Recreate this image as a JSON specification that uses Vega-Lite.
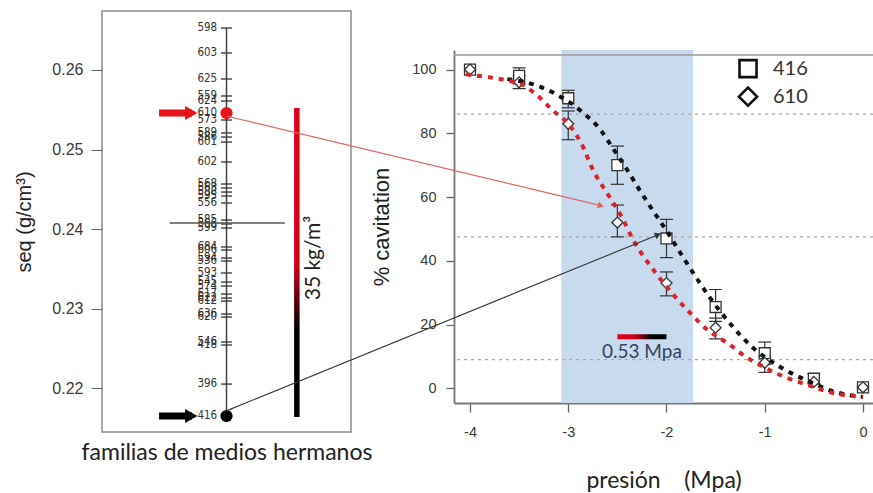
{
  "$schema": "https://vega.github.io/schema/vega-lite/v6.json",
  "padding": {"top": 10, "left": 14, "right": 0, "bottom": 0},
  "bounds": "flush",
  "spacing": 103,
  "resolve": {"scale": {"color": "independent", "shape": "independent"}, "legend": {"color": "independent", "shape": "independent"}},
  "config": {
    "view": {"stroke": null},
    "font": "Liberation Sans",
    "axis": {"labelFont": "Liberation Sans", "titleFont": "Liberation Sans", "labelColor": "#3a3a3a", "titleColor": "#222222", "tickColor": "#666666", "domainColor": "#777777", "grid": false, "titleFontWeight": "normal"}
  },
  "datasets": {
    "fam": [
      {"label": "598", "seq": 0.26528}, {"label": "603", "seq": 0.26214}, {"label": "625", "seq": 0.25887},
      {"label": "559", "seq": 0.25673}, {"label": "624", "seq": 0.2561}, {"label": "610", "seq": 0.25459},
      {"label": "573", "seq": 0.25371}, {"label": "589", "seq": 0.25208}, {"label": "586", "seq": 0.25157},
      {"label": "601", "seq": 0.25094}, {"label": "602", "seq": 0.24843}, {"label": "568", "seq": 0.24566},
      {"label": "563", "seq": 0.24516}, {"label": "588", "seq": 0.24465}, {"label": "595", "seq": 0.24415},
      {"label": "556", "seq": 0.24327}, {"label": "585", "seq": 0.24113}, {"label": "566", "seq": 0.24063},
      {"label": "599", "seq": 0.24013}, {"label": "684", "seq": 0.23774}, {"label": "606", "seq": 0.23736},
      {"label": "594", "seq": 0.23635}, {"label": "536", "seq": 0.23597}, {"label": "593", "seq": 0.23447},
      {"label": "545", "seq": 0.23333}, {"label": "574", "seq": 0.23283}, {"label": "617", "seq": 0.23182},
      {"label": "622", "seq": 0.23132}, {"label": "612", "seq": 0.23094}, {"label": "636", "seq": 0.22931},
      {"label": "620", "seq": 0.22893}, {"label": "546", "seq": 0.22579}, {"label": "418", "seq": 0.22541},
      {"label": "396", "seq": 0.2205}, {"label": "416", "seq": 0.21648}
    ],
    "hl": [
      {"selected": "610", "seq": 0.25459},
      {"selected": "416", "seq": 0.21648}
    ],
    "link": [
      {"selected": "610", "P0": -6.474, "pct0": 85.36, "P1": -2.667, "pct1": 57.3},
      {"selected": "416", "P0": -6.474, "pct0": -7.01, "P1": -2.086, "pct1": 48.17}
    ],
    "obs": [
      {"family": "416", "P": -4, "pct": 100},
      {"family": "416", "P": -3.5, "pct": 98, "lo": 95.5, "hi": 100.5},
      {"family": "416", "P": -3, "pct": 91, "lo": 88, "hi": 93.5},
      {"family": "416", "P": -2.5, "pct": 70, "lo": 64, "hi": 76},
      {"family": "416", "P": -2, "pct": 47, "lo": 41, "hi": 53},
      {"family": "416", "P": -1.5, "pct": 25.5, "lo": 21, "hi": 31},
      {"family": "416", "P": -1, "pct": 11, "lo": 7.5, "hi": 14.5},
      {"family": "416", "P": -0.5, "pct": 3, "lo": 1.5, "hi": 4.5},
      {"family": "416", "P": 0, "pct": 0.3},
      {"family": "610", "P": -4, "pct": 100},
      {"family": "610", "P": -3.5, "pct": 96, "lo": 94, "hi": 98},
      {"family": "610", "P": -3, "pct": 83, "lo": 78, "hi": 87},
      {"family": "610", "P": -2.5, "pct": 52, "lo": 47.5, "hi": 57.5},
      {"family": "610", "P": -2, "pct": 33, "lo": 29, "hi": 36.5},
      {"family": "610", "P": -1.5, "pct": 19, "lo": 15.5, "hi": 22},
      {"family": "610", "P": -1, "pct": 8, "lo": 5, "hi": 10},
      {"family": "610", "P": -0.5, "pct": 2},
      {"family": "610", "P": 0, "pct": 0.3}
    ],
    "fit": [
      {"curve": "416", "P": -3.62, "pct": 97}, {"curve": "416", "P": -3.32, "pct": 95},
      {"curve": "416", "P": -3.15, "pct": 92.7}, {"curve": "416", "P": -2.87, "pct": 87},
      {"curve": "416", "P": -2.67, "pct": 81}, {"curve": "416", "P": -2.55, "pct": 75.5},
      {"curve": "416", "P": -2.41, "pct": 69}, {"curve": "416", "P": -2.27, "pct": 62},
      {"curve": "416", "P": -2.1, "pct": 54}, {"curve": "416", "P": -2.0, "pct": 49.5},
      {"curve": "416", "P": -1.9, "pct": 44.5}, {"curve": "416", "P": -1.66, "pct": 33},
      {"curve": "416", "P": -1.56, "pct": 28.5}, {"curve": "416", "P": -1.33, "pct": 19.5},
      {"curve": "416", "P": -1.13, "pct": 13}, {"curve": "416", "P": -0.86, "pct": 7},
      {"curve": "416", "P": -0.5, "pct": 1.5}, {"curve": "416", "P": -0.3, "pct": -1},
      {"curve": "416", "P": 0, "pct": -2.7},
      {"curve": "610", "P": -4.04, "pct": 98.5}, {"curve": "610", "P": -3.79, "pct": 97.5},
      {"curve": "610", "P": -3.62, "pct": 96.6}, {"curve": "610", "P": -3.45, "pct": 95},
      {"curve": "610", "P": -3.32, "pct": 92}, {"curve": "610", "P": -3.15, "pct": 87},
      {"curve": "610", "P": -3.0, "pct": 83}, {"curve": "610", "P": -2.87, "pct": 77},
      {"curve": "610", "P": -2.74, "pct": 68}, {"curve": "610", "P": -2.6, "pct": 61},
      {"curve": "610", "P": -2.46, "pct": 54}, {"curve": "610", "P": -2.34, "pct": 46.6},
      {"curve": "610", "P": -2.12, "pct": 36.6}, {"curve": "610", "P": -1.92, "pct": 29},
      {"curve": "610", "P": -1.74, "pct": 23}, {"curve": "610", "P": -1.57, "pct": 18},
      {"curve": "610", "P": -1.37, "pct": 14}, {"curve": "610", "P": -1.2, "pct": 10},
      {"curve": "610", "P": -1.03, "pct": 7}, {"curve": "610", "P": -0.83, "pct": 4},
      {"curve": "610", "P": -0.56, "pct": 1}, {"curve": "610", "P": -0.3, "pct": -1.5},
      {"curve": "610", "P": 0, "pct": -2.7}
    ]
  },
  "hconcat": [
    {
      "width": 249,
      "height": 421,
      "view": {"stroke": "#8c8c8c", "strokeWidth": 1.5},
      "layer": [
        {
          "data": {"values": [{"top": 0.26528, "bottom": 0.21648}]},
          "mark": {"type": "bar", "width": 1.5, "color": "#444444"},
          "encoding": {
            "x": {"datum": 0.5, "type": "quantitative", "scale": {"domain": [0, 1]},
                  "axis": {"title": "familias de medios hermanos", "labels": false, "ticks": false, "domain": false, "titleFont": "Lato", "titleFontSize": 23, "titleColor": "#222222", "titlePadding": 9}},
            "y": {"field": "top", "type": "quantitative",
                  "scale": {"domain": [0.21447, 0.26742], "nice": false, "zero": false},
                  "axis": {"title": "seq (g/cm³)", "values": [0.22, 0.23, 0.24, 0.25, 0.26], "format": ".2f", "labelFontSize": 16, "titleFontSize": 20, "tickSize": 11, "labelPadding": 8, "titlePadding": 17, "domain": false}},
            "y2": {"field": "bottom"}
          }
        },
        {
          "data": {"name": "fam"},
          "mark": {"type": "tick", "orient": "horizontal", "size": 11, "thickness": 1.3, "color": "#333333", "opacity": 1},
          "encoding": {
            "x": {"datum": 0.5, "type": "quantitative"},
            "y": {"field": "seq", "type": "quantitative"}
          }
        },
        {
          "data": {"name": "fam"},
          "mark": {"type": "text", "align": "right", "baseline": "middle", "font": "Liberation Sans Narrow, DejaVu Sans Condensed, Liberation Sans", "fontSize": 11.5, "color": "#333333"},
          "encoding": {
            "x": {"datum": 0.455, "type": "quantitative"},
            "y": {"field": "seq", "type": "quantitative"},
            "text": {"field": "label"}
          }
        },
        {
          "data": {"values": [{"mean": 0.24075}]},
          "mark": {"type": "tick", "orient": "horizontal", "size": 115, "thickness": 1.5, "color": "#555555", "opacity": 1},
          "encoding": {
            "x": {"datum": 0.504, "type": "quantitative"},
            "y": {"field": "mean", "type": "quantitative"}
          }
        },
        {
          "data": {"values": [{"top": 0.25522, "bottom": 0.21635}]},
          "mark": {"type": "bar", "width": 5.5,
                   "fill": {"gradient": "linear", "x1": 0, "y1": 0, "x2": 0, "y2": 1,
                            "stops": [{"offset": 0, "color": "#e3001b"}, {"offset": 0.5, "color": "#d5001a"}, {"offset": 0.72, "color": "#000000"}, {"offset": 1, "color": "#000000"}]}},
          "encoding": {
            "x": {"datum": 0.839, "type": "quantitative"},
            "y": {"field": "top", "type": "quantitative"},
            "y2": {"field": "bottom"}
          }
        },
        {
          "data": {"values": [{"text": "35 kg/m³"}]},
          "mark": {"type": "text", "angle": 270, "font": "Lato", "fontSize": 21, "color": "#222222", "align": "center", "baseline": "middle"},
          "encoding": {
            "x": {"datum": 0.92, "type": "quantitative"},
            "y": {"datum": 0.23635, "type": "quantitative"},
            "text": {"field": "text"}
          }
        },
        {
          "data": {"name": "hl"},
          "mark": {"type": "tick", "orient": "horizontal", "size": 33, "thickness": 7, "opacity": 1},
          "encoding": {
            "x": {"datum": 0.2545, "type": "quantitative"},
            "y": {"field": "seq", "type": "quantitative"},
            "color": {"field": "selected", "type": "nominal", "scale": {"domain": ["416", "610"], "range": ["#000000", "#e8141b"]}, "legend": null}
          }
        },
        {
          "data": {"name": "hl"},
          "mark": {"type": "point", "shape": "triangle-right", "filled": true, "size": 200, "opacity": 1},
          "encoding": {
            "x": {"datum": 0.33, "type": "quantitative"},
            "y": {"field": "seq", "type": "quantitative"},
            "color": {"field": "selected", "type": "nominal", "legend": null}
          }
        },
        {
          "data": {"name": "hl"},
          "mark": {"type": "point", "shape": "circle", "filled": true, "size": 150, "opacity": 1},
          "encoding": {
            "x": {"datum": 0.5, "type": "quantitative"},
            "y": {"field": "seq", "type": "quantitative"},
            "color": {"field": "selected", "type": "nominal", "legend": null}
          }
        }
      ]
    },
    {
      "bounds": "flush",
      "spacing": 0,
      "resolve": {"scale": {"color": "independent", "shape": "independent"}, "legend": {"color": "independent", "shape": "independent"}},
      "vconcat": [
        {
          "width": 419,
          "height": 39,
          "data": {"values": [{"blank": ""}]},
          "mark": {"type": "text"},
          "encoding": {"text": {"field": "blank"}}
        },
        {
          "width": 419,
          "height": 353,
          "layer": [
            {
              "data": {"values": [{"from": -3.07, "to": -1.73}]},
              "mark": {"type": "rect", "color": "#c8daee", "opacity": 1},
              "encoding": {
                "x": {"field": "from", "type": "quantitative",
                      "scale": {"domain": [-4.163, 0.102], "nice": false, "zero": false},
                      "axis": {"title": "presión\u00a0\u00a0\u00a0\u00a0(Mpa)", "values": [-4, -3, -2, -1, 0], "labelExpr": "toString(datum.value)", "labelFontSize": 14.5, "tickSize": 9, "labelPadding": 13, "titleFont": "Lato", "titleFontSize": 23, "titlePadding": 31, "domainWidth": 1.8, "tickWidth": 1.3}},
                "x2": {"field": "to"}
              }
            },
            {
              "data": {"values": [{"level": 86}, {"level": 47.5}, {"level": 9}]},
              "mark": {"type": "rule", "color": "#a8a8a8", "strokeWidth": 1.2, "strokeDash": [3, 4]},
              "encoding": {
                "y": {"field": "level", "type": "quantitative",
                      "scale": {"domain": [-3.05, 104.57], "nice": false, "zero": false},
                      "axis": {"title": "% cavitation", "values": [0, 20, 40, 60, 80, 100], "labelFontSize": 14.5, "tickSize": 8, "labelPadding": 10, "titleFontSize": 22, "titlePadding": 18, "domainWidth": 1.8, "tickWidth": 1.3}}
              }
            },
            {
              "data": {"values": [{"edge": 104.57}]},
              "mark": {"type": "rule", "color": "#999999", "strokeWidth": 1.5},
              "encoding": {"y": {"field": "edge", "type": "quantitative"}}
            },
            {
              "data": {"name": "obs"},
              "transform": [{"filter": "isValid(datum.lo)"}],
              "mark": {"type": "rule", "color": "#333333", "strokeWidth": 1.2},
              "encoding": {
                "x": {"field": "P", "type": "quantitative"},
                "y": {"field": "lo", "type": "quantitative"},
                "y2": {"field": "hi"}
              }
            },
            {
              "data": {"name": "obs"},
              "transform": [{"filter": "isValid(datum.lo)"}],
              "mark": {"type": "tick", "orient": "horizontal", "size": 13, "thickness": 1.2, "color": "#333333", "opacity": 1},
              "encoding": {
                "x": {"field": "P", "type": "quantitative"},
                "y": {"field": "lo", "type": "quantitative"}
              }
            },
            {
              "data": {"name": "obs"},
              "transform": [{"filter": "isValid(datum.hi)"}],
              "mark": {"type": "tick", "orient": "horizontal", "size": 13, "thickness": 1.2, "color": "#333333", "opacity": 1},
              "encoding": {
                "x": {"field": "P", "type": "quantitative"},
                "y": {"field": "hi", "type": "quantitative"}
              }
            },
            {
              "data": {"name": "obs"},
              "mark": {"type": "point", "filled": false, "color": "#333333", "fill": "white", "fillOpacity": 1, "strokeWidth": 1.3, "size": 120, "opacity": 1},
              "encoding": {
                "x": {"field": "P", "type": "quantitative"},
                "y": {"field": "pct", "type": "quantitative"},
                "shape": {"field": "family", "type": "nominal",
                          "scale": {"domain": ["416", "610"], "range": ["square", "diamond"]},
                          "legend": null}
              }
            },
            {
              "data": {"name": "fit"},
              "transform": [{"filter": "datum.curve === '416'"}],
              "mark": {"type": "line", "strokeWidth": 4, "strokeDash": [5, 6], "interpolate": "monotone", "color": "#111111"},
              "encoding": {
                "x": {"field": "P", "type": "quantitative"},
                "y": {"field": "pct", "type": "quantitative"}
              }
            },
            {
              "data": {"name": "fit"},
              "transform": [{"filter": "datum.curve === '610'"}],
              "mark": {"type": "line", "strokeWidth": 4, "strokeDash": [5, 6], "interpolate": "monotone", "color": "#d8232a"},
              "encoding": {
                "x": {"field": "P", "type": "quantitative"},
                "y": {"field": "pct", "type": "quantitative"}
              }
            },
            {
              "data": {"values": [{"x0": -2.5, "x1": -2.0, "level": 16.2}]},
              "mark": {"type": "bar", "height": 5,
                       "fill": {"gradient": "linear", "x1": 0, "y1": 0, "x2": 1, "y2": 0,
                                "stops": [{"offset": 0, "color": "#e3001b"}, {"offset": 0.35, "color": "#d0001a"}, {"offset": 0.7, "color": "#000000"}, {"offset": 1, "color": "#000000"}]}},
              "encoding": {
                "x": {"field": "x0", "type": "quantitative"},
                "x2": {"field": "x1"},
                "y": {"field": "level", "type": "quantitative"}
              }
            },
            {
              "data": {"values": [{"text": "0.53 Mpa"}]},
              "mark": {"type": "text", "font": "Lato", "fontSize": 19, "color": "#34445a", "align": "center", "baseline": "middle"},
              "encoding": {
                "x": {"datum": -2.25, "type": "quantitative"},
                "y": {"datum": 11.3, "type": "quantitative"},
                "text": {"field": "text"}
              }
            },
            {
              "data": {"values": [{"family": "416"}]},
              "mark": {"type": "point", "shape": "square", "filled": false, "color": "#111111", "fill": "white", "fillOpacity": 1, "strokeWidth": 2.6, "size": 290, "opacity": 1},
              "encoding": {
                "x": {"datum": -1.17, "type": "quantitative"},
                "y": {"datum": 100.3, "type": "quantitative"}
              }
            },
            {
              "data": {"values": [{"family": "610"}]},
              "mark": {"type": "point", "shape": "diamond", "filled": false, "color": "#111111", "fill": "white", "fillOpacity": 1, "strokeWidth": 2.6, "size": 330, "opacity": 1},
              "encoding": {
                "x": {"datum": -1.17, "type": "quantitative"},
                "y": {"datum": 91.5, "type": "quantitative"}
              }
            },
            {
              "data": {"values": [{"family": "416"}]},
              "mark": {"type": "text", "font": "Lato", "fontSize": 20, "color": "#333333", "align": "left", "baseline": "middle"},
              "encoding": {
                "x": {"datum": -0.916, "type": "quantitative"},
                "y": {"datum": 100.3, "type": "quantitative"},
                "text": {"field": "family"}
              }
            },
            {
              "data": {"values": [{"family": "610"}]},
              "mark": {"type": "text", "font": "Lato", "fontSize": 20, "color": "#333333", "align": "left", "baseline": "middle"},
              "encoding": {
                "x": {"datum": -0.916, "type": "quantitative"},
                "y": {"datum": 91.5, "type": "quantitative"},
                "text": {"field": "family"}
              }
            },
            {
              "data": {"name": "link"},
              "transform": [{"filter": "datum.selected === '610'"}],
              "mark": {"type": "rule", "color": "#e06666", "strokeWidth": 1.1, "clip": false},
              "encoding": {
                "x": {"field": "P0", "type": "quantitative"},
                "x2": {"field": "P1"},
                "y": {"field": "pct0", "type": "quantitative"},
                "y2": {"field": "pct1"}
              }
            },
            {
              "data": {"name": "link"},
              "transform": [{"filter": "datum.selected === '416'"}],
              "mark": {"type": "rule", "color": "#333333", "strokeWidth": 1.1, "clip": false},
              "encoding": {
                "x": {"field": "P0", "type": "quantitative"},
                "x2": {"field": "P1"},
                "y": {"field": "pct0", "type": "quantitative"},
                "y2": {"field": "pct1"}
              }
            },
            {
              "data": {"name": "link"},
              "transform": [{"filter": "datum.selected === '610'"}],
              "mark": {"type": "point", "shape": "triangle-right", "filled": true, "size": 50, "angle": 13.8, "color": "#e06666", "opacity": 1, "clip": false},
              "encoding": {
                "x": {"field": "P1", "type": "quantitative"},
                "y": {"field": "pct1", "type": "quantitative"}
              }
            },
            {
              "data": {"name": "link"},
              "transform": [{"filter": "datum.selected === '416'"}],
              "mark": {"type": "point", "shape": "triangle-right", "filled": true, "size": 50, "angle": -22.8, "color": "#333333", "opacity": 1, "clip": false},
              "encoding": {
                "x": {"field": "P1", "type": "quantitative"},
                "y": {"field": "pct1", "type": "quantitative"}
              }
            }
          ]
        }
      ]
    }
  ]
}
